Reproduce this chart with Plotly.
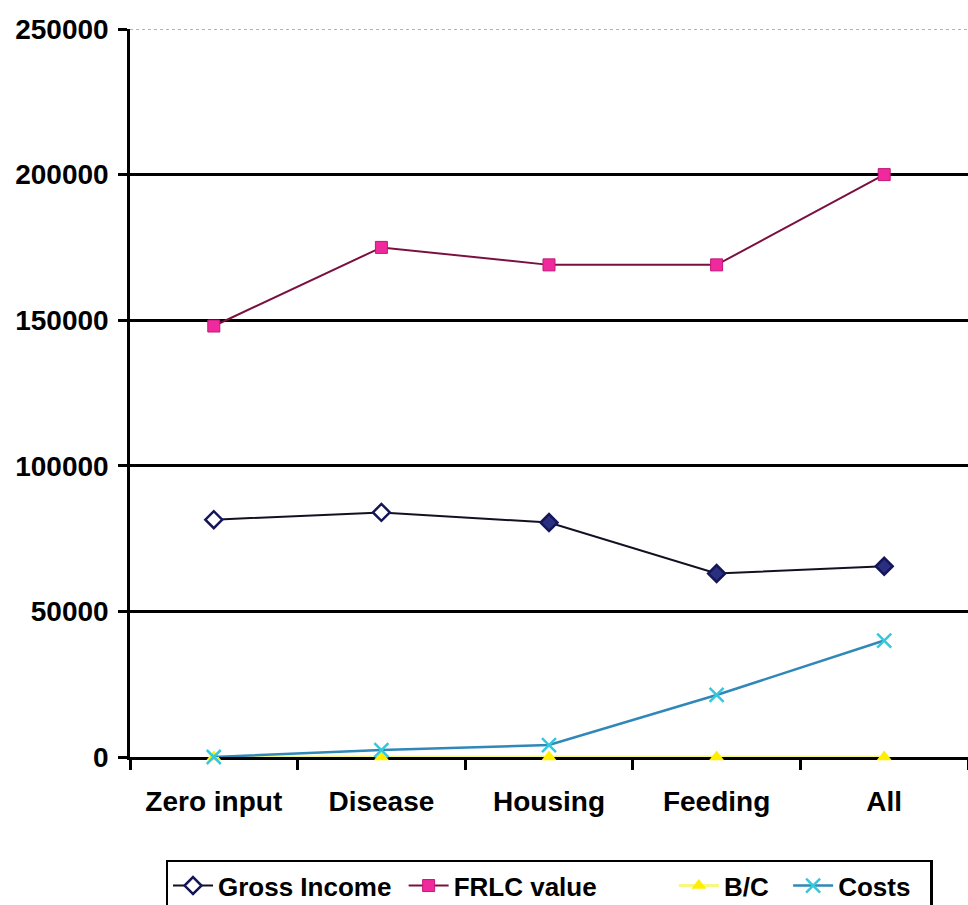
import plotly.graph_objects as go

categories = ["Zero input", "Disease", "Housing", "Feeding", "All"]
gross_income = [81500, 84000, 80500, 63000, 65500]
frlc_value = [148000, 175000, 169000, 169000, 200000]
bc_ratio = [0.9, 1.6, 1.4, 1.2, 1.3]
costs = [0, 2400, 4100, 21300, 40000]
y_ticks = [0, 50000, 100000, 150000, 200000, 250000]

FONT = dict(family="Liberation Sans, Arial, sans-serif", color="black", weight="bold")

fig = go.Figure()

fig.add_trace(go.Scatter(
    x=categories, y=gross_income, name="Gross Income ", mode="lines+markers",
    line=dict(color="#111122", width=2),
    marker=dict(symbol="diamond", size=13,
                color=["white", "white", "#2a2f80", "#2a2f80", "#2a2f80"],
                line=dict(color="#15155a", width=2.5)),
    cliponaxis=False,
))
fig.add_trace(go.Scatter(
    x=categories, y=frlc_value, name="FRLC value          ", mode="lines+markers",
    line=dict(color="#7a1040", width=2),
    marker=dict(symbol="square", size=12, color="#f02a9c",
                line=dict(color="#c0187a", width=1)),
    cliponaxis=False,
))
fig.add_trace(go.Scatter(
    x=categories, y=bc_ratio, name="B/C  ", mode="lines+markers",
    line=dict(color="#f8f880", width=3),
    marker=dict(symbol="triangle-up", size=13, color="#ffee00"),
    cliponaxis=False,
))
fig.add_trace(go.Scatter(
    x=categories, y=costs, name="Costs  ", mode="lines+markers",
    line=dict(color="#2f88b8", width=2.5),
    marker=dict(symbol="x-thin", size=14, color="#35c8dc",
                line=dict(color="#35c8dc", width=2.5)),
    cliponaxis=False,
))

# dotted grey rule across the top of the value axis
fig.add_shape(type="line", xref="paper", x0=0, x1=1, yref="y",
              y0=y_ticks[-1], y1=y_ticks[-1],
              line=dict(color="white", width=4), layer="above")
fig.add_shape(type="line", xref="paper", x0=0, x1=1, yref="y",
              y0=y_ticks[-1], y1=y_ticks[-1],
              line=dict(color="#9a9a9a", width=1.5, dash="dot"), layer="above")

fig.update_layout(
    width=968, height=905,
    margin=dict(l=130, r=0, t=29, b=148, autoexpand=False),
    paper_bgcolor="white", plot_bgcolor="white",
    font=dict(size=28, **FONT),
    showlegend=True,
    legend=dict(
        orientation="h", x=0.5, xanchor="center", y=-0.141, yanchor="top",
        font=dict(size=26, **FONT), bordercolor="black", borderwidth=2.5,
        bgcolor="white", itemwidth=40, tracegroupgap=0,
    ),
    xaxis=dict(
        type="category", range=[-0.5, 4.5], automargin=False,
        showline=True, linecolor="black", linewidth=2.5, layer="below traces",
        ticks="outside", tickson="boundaries", ticklen=10, tickwidth=2.5,
        tickcolor="black", showgrid=False, ticklabelstandoff=18,
        tickfont=dict(size=28, **FONT),
    ),
    yaxis=dict(
        range=[0, 250000], tickvals=y_ticks, ticktext=[str(v) for v in y_ticks],
        automargin=False, layer="below traces",
        showline=True, linecolor="black", linewidth=2.5,
        ticks="outside", ticklen=9, tickwidth=2.5, tickcolor="black",
        showgrid=True, gridcolor="black", gridwidth=2.5,
        zeroline=False, ticklabelstandoff=4,
        tickfont=dict(size=28, **FONT),
    ),
)

fig.write_html("out.html")
